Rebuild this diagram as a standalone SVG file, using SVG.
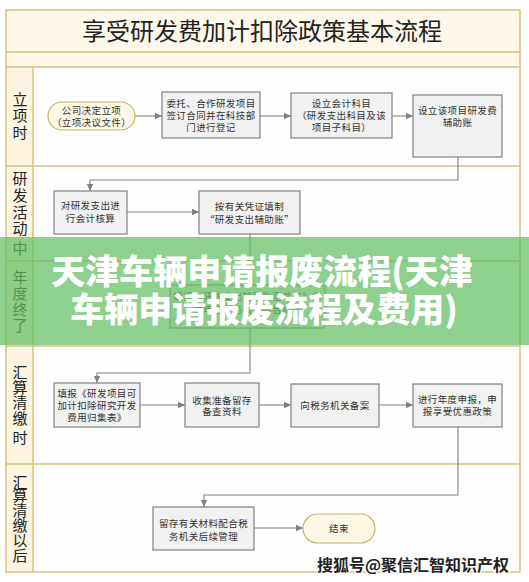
<svg xmlns="http://www.w3.org/2000/svg" width="529" height="582" viewBox="0 0 529 582">
<defs>
<style>
.frame{fill:none;stroke:#d3c27c;stroke-width:1.5}
.lbl{font-family:"Noto Sans CJK SC","Noto Sans",sans-serif;font-size:15px;fill:#222;text-anchor:middle}
.box{fill:#f1f1f1;stroke:#808080;stroke-width:1.2}
.term{fill:#fdf8e6;stroke:#c8b46a;stroke-width:1.2}
.t{font-family:"Noto Sans CJK SC","Noto Sans",sans-serif;font-size:9.5px;fill:#333;text-anchor:middle;letter-spacing:0.4px}
.c{fill:none;stroke:#808080;stroke-width:1.1}
.ban{font-family:"Noto Sans CJK SC","Noto Sans",sans-serif;font-size:34px;font-weight:900;fill:#fff;text-anchor:middle}
.wm{font-family:"Noto Sans CJK SC","Noto Sans",sans-serif;font-size:16px;font-weight:700;fill:#222;stroke:#fff;stroke-width:2.5;paint-order:stroke;text-anchor:end}
</style>
<marker id="ah" markerWidth="8" markerHeight="8" refX="7" refY="4" orient="auto" markerUnits="userSpaceOnUse">
<path d="M0,0.8 L7,4 L0,7.2 Z" fill="#808080"/>
</marker>
</defs>
<rect x="0" y="0" width="529" height="582" fill="#fff"/>
<!-- frame backgrounds -->
<rect x="6" y="10" width="514" height="57" fill="#fdf8ea"/>
<rect x="6" y="67" width="27" height="505" fill="#fdf5e1"/>
<rect x="33" y="67" width="487" height="505" fill="#fefefe"/>
<g id="frame">
<rect class="frame" x="6" y="10" width="514" height="562"/>
<line class="frame" x1="6" y1="52" x2="520" y2="52"/>
<line class="frame" x1="6" y1="67" x2="520" y2="67"/>
<line class="frame" x1="6" y1="166" x2="520" y2="166"/>
<line class="frame" x1="6" y1="261" x2="520" y2="261"/>
<line class="frame" x1="6" y1="346" x2="520" y2="346"/>
<line class="frame" x1="6" y1="464" x2="520" y2="464"/>
<line class="frame" x1="33" y1="67" x2="33" y2="572"/>
</g>
<text id="title" x="262" y="40" font-family="'Noto Sans CJK SC','Noto Sans',sans-serif" font-size="24" fill="#222" text-anchor="middle">享受研发费加计扣除政策基本流程</text>
<g id="lanes">
<text class="lbl" x="20"><tspan x="20" y="105">立</tspan><tspan x="20" y="121">项</tspan><tspan x="20" y="138">时</tspan></text>
<text class="lbl" x="20"><tspan x="20" y="184">研</tspan><tspan x="20" y="201">发</tspan><tspan x="20" y="218">活</tspan><tspan x="20" y="234">动</tspan><tspan x="20" y="254">中</tspan></text>
<text class="lbl" x="20"><tspan x="20" y="283">年</tspan><tspan x="20" y="299">度</tspan><tspan x="20" y="315">终</tspan><tspan x="20" y="331">了</tspan></text>
<text class="lbl" x="20"><tspan x="20" y="378">汇</tspan><tspan x="20" y="393">算</tspan><tspan x="20" y="408">清</tspan><tspan x="20" y="424">缴</tspan><tspan x="20" y="443">时</tspan></text>
<text class="lbl" x="20"><tspan x="20" y="488">汇</tspan><tspan x="20" y="501">算</tspan><tspan x="20" y="516">清</tspan><tspan x="20" y="531">缴</tspan><tspan x="20" y="546">以</tspan><tspan x="20" y="561">后</tspan></text>
</g>
<g id="connectors">
<line class="c" x1="135" y1="116" x2="162" y2="116" marker-end="url(#ah)"/>
<line class="c" x1="260" y1="116" x2="291" y2="116" marker-end="url(#ah)"/>
<line class="c" x1="392" y1="116" x2="413" y2="116" marker-end="url(#ah)"/>
<polyline class="c" points="458,157 458,180 90,180 90,191" marker-end="url(#ah)"/>
<line class="c" x1="127" y1="212" x2="199" y2="212" marker-end="url(#ah)"/>
<line class="c" x1="250" y1="234" x2="250" y2="285" marker-end="url(#ah)"/>
<polyline class="c" points="250,328 250,373 97,373 97,383" marker-end="url(#ah)"/>
<line class="c" x1="140" y1="405" x2="185" y2="405" marker-end="url(#ah)"/>
<line class="c" x1="259" y1="405" x2="291" y2="405" marker-end="url(#ah)"/>
<line class="c" x1="379" y1="405" x2="413" y2="405" marker-end="url(#ah)"/>
<polyline class="c" points="458,427 458,495 204,495 204,507" marker-end="url(#ah)"/>
<line class="c" x1="254" y1="528" x2="303" y2="528" marker-end="url(#ah)"/>
</g>
<g id="start">
<rect class="term" x="48" y="102" width="87" height="28" rx="14"/>
<text class="t" x="91.5" y="113.5">公司决定立项</text>
<text class="t" x="91.5" y="125.5">（立项决议文件）</text>
</g>
<g id="n1">
<rect class="box" x="162" y="92" width="98" height="46"/>
<text class="t" x="211" y="106.5">委托、合作研发项目</text>
<text class="t" x="211" y="118.5">签订合同并在科技部</text>
<text class="t" x="211" y="130.5">门进行登记</text>
</g>
<g id="n2">
<rect class="box" x="291" y="93" width="101" height="45"/>
<text class="t" x="341.5" y="106.5">设立会计科目</text>
<text class="t" x="341.5" y="118.5">（研发支出科目及该</text>
<text class="t" x="341.5" y="130.5">项目子科目）</text>
</g>
<g id="n3">
<rect class="box" x="413" y="95" width="89" height="62"/>
<text class="t" x="457.5" y="113.5">设立该项目研发费</text>
<text class="t" x="457.5" y="125.5">辅助账</text>
</g>
<g id="n4">
<rect class="box" x="54" y="191" width="73" height="43"/>
<text class="t" x="90.5" y="208.5">对研发支出进</text>
<text class="t" x="90.5" y="221.5">行会计核算</text>
</g>
<g id="n5">
<rect class="box" x="199" y="191" width="101" height="43"/>
<text class="t" x="249.5" y="209.5">按有关凭证填制</text>
<text class="t" x="249.5" y="222.5">“研发支出辅助账”</text>
</g>
<g id="n6">
<rect class="box" x="170" y="285" width="155" height="43"/>
<text class="t" x="247.5" y="299.5">填报《研发支出辅助账汇总表》作</text>
<text class="t" x="247.5" y="313">为年度财务会计报告附注</text>
</g>
<g id="n7">
<rect class="box" x="54" y="383" width="86" height="44"/>
<text class="t" x="97" y="396.5">填报《研发项目可</text>
<text class="t" x="97" y="409">加计扣除研究开发</text>
<text class="t" x="97" y="421">费用归集表》</text>
</g>
<g id="n8">
<rect class="box" x="185" y="383" width="74" height="44"/>
<text class="t" x="222" y="403.5">收集准备留存</text>
<text class="t" x="222" y="415">备查资料</text>
</g>
<g id="n9">
<rect class="box" x="291" y="384" width="88" height="43"/>
<text class="t" x="335" y="408.5">向税务机关备案</text>
</g>
<g id="n10">
<rect class="box" x="413" y="384" width="89" height="43"/>
<text class="t" x="457.5" y="402.5">进行年度申报，申</text>
<text class="t" x="457.5" y="414.5">报享受优惠政策</text>
</g>
<g id="n11">
<rect class="box" x="153" y="507" width="101" height="43"/>
<text class="t" x="203.5" y="526.5">留存有关材料配合税</text>
<text class="t" x="203.5" y="539.5">务机关后续管理</text>
</g>
<g id="end">
<rect class="term" x="303" y="514" width="72" height="29" rx="14.5"/>
<text class="t" x="339" y="531.5">结束</text>
</g>
<g id="banner">
<rect x="0" y="237" width="529" height="108" fill="#62be62" opacity="0.72"/>
<text class="ban" x="262" y="284">天津车辆申请报废流程(天津</text>
<text class="ban" x="264" y="322">车辆申请报废流程及费用)</text>
</g>
<text class="wm" x="509" y="571">搜狐号@聚信汇智知识产权</text>
</svg>
